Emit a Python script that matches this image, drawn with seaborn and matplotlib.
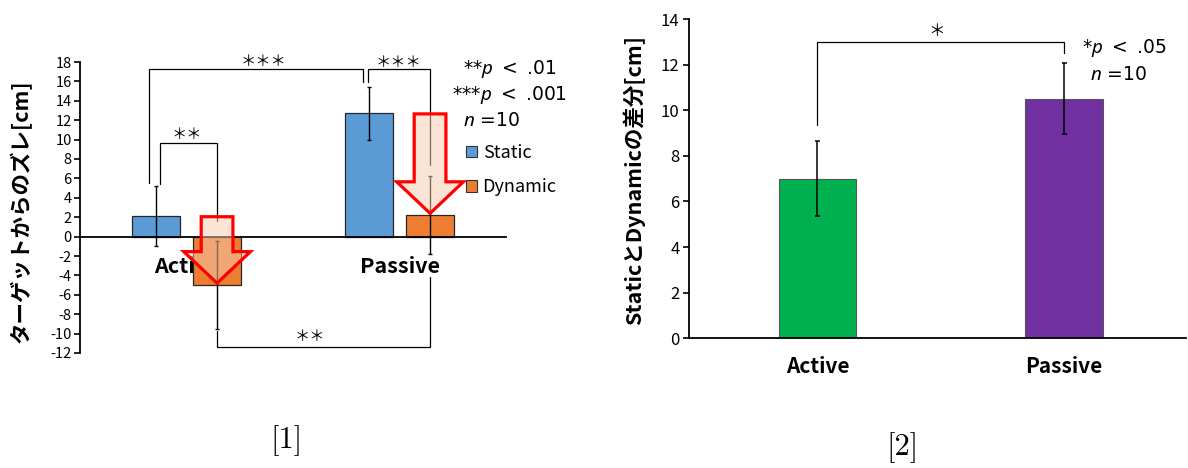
import numpy as np
import pandas as pd
import matplotlib
matplotlib.use('Agg')
import matplotlib.pyplot as plt
import seaborn as sns
from matplotlib.patches import Polygon, Patch

# ---------------- data ----------------
conditions = ['Active', 'Passive']
types = ['Static', 'Dynamic']
static_mean = [2.1, 12.7]
static_sd = [3.1, 2.7]
dynamic_mean = [-5.0, 2.2]
dynamic_sd = [4.5, 4.0]
diff_mean = [7.0, 10.5]
diff_sd = [1.63, 1.55]
left_yticks = list(range(-12, 19, 2))
right_yticks = list(range(0, 15, 2))

BLUE = '#5B9BD5'
ORANGE = '#ED7D31'
GREEN = '#00B050'
PURPLE = '#7030A0'

sns.set_theme(style='white')
plt.rcParams['font.family'] = ['Noto Sans CJK JP', 'DejaVu Sans']
plt.rcParams['mathtext.fontset'] = 'custom'
plt.rcParams['mathtext.it'] = 'Noto Sans:italic'
plt.rcParams['mathtext.rm'] = 'DejaVu Sans'
plt.rcParams['axes.unicode_minus'] = False
plt.rcParams['text.color'] = 'black'
plt.rcParams['axes.labelcolor'] = 'black'
plt.rcParams['xtick.color'] = 'black'
plt.rcParams['ytick.color'] = 'black'

ANNOT_FONT = ['DejaVu Sans']

W, H = 1188, 468
fig = plt.figure(figsize=(W / 100, H / 100), dpi=100)
fig.patch.set_facecolor('white')

ax1 = fig.add_axes([80 / W, 1 - 353 / H, 426 / W, 291 / H])
ax2 = fig.add_axes([689.3 / W, 1 - 338.3 / H, 496.7 / W, 319.3 / H])

# ---------------- left panel ----------------
df1 = pd.DataFrame({
    'cond': conditions * 2,
    'type': [types[0]] * 2 + [types[1]] * 2,
    'value': static_mean + dynamic_mean,
})
sns.barplot(data=df1, x='cond', y='value', hue='type', order=conditions,
            hue_order=types, palette=[BLUE, ORANGE], saturation=1,
            width=0.574, gap=0.22, edgecolor='#262626', linewidth=0.9,
            errorbar=None, legend=False, ax=ax1, zorder=2)

sx = [b.get_x() + b.get_width() / 2 for b in ax1.containers[0]]
dx = [b.get_x() + b.get_width() / 2 for b in ax1.containers[1]]

ax1.errorbar(sx, static_mean, yerr=static_sd, fmt='none', ecolor='black',
             elinewidth=1.0, capsize=1.6, capthick=1.0, zorder=3)
ax1.errorbar(dx, dynamic_mean, yerr=dynamic_sd, fmt='none', ecolor='black',
             elinewidth=1.0, capsize=1.6, capthick=1.0, zorder=3)

ax1.set_xlim(-0.5, 1.5)
ax1.set_ylim(-12, 18)
ax1.set_yticks(left_yticks)
ax1.set_yticklabels([str(t) for t in left_yticks])
ax1.set_xlabel('')
ax1.set_ylabel('')
for s in ['top', 'right']:
    ax1.spines[s].set_visible(False)
ax1.spines['bottom'].set_position(('data', 0))
for s in ['left', 'bottom']:
    ax1.spines[s].set_color('black')
    ax1.spines[s].set_linewidth(1.3)
ax1.tick_params(axis='y', left=True, direction='out', length=4, width=1.2,
                labelsize=10.5, pad=2, colors='black')
ax1.tick_params(axis='x', bottom=False, length=0, pad=14, labelsize=15.5,
                colors='black')
for lab in ax1.get_xticklabels():
    lab.set_fontweight('bold')
    lab.set_zorder(1)
ax1.patch.set_visible(False)


def bracket(ax, x1, x2, y1, y2, yh, text, tx, ty, fs):
    ax.plot([x1, x1, x2, x2], [y1, yh, yh, y2], color='black', lw=0.9,
            solid_joinstyle='miter', zorder=3, clip_on=False)
    ax.text(tx, ty, text, ha='center', va='center', fontsize=fs,
            color='black', zorder=5)


# brackets (left)
bracket(ax1, sx[0] - 0.031, sx[1] - 0.028, 5.5, 15.95, 17.3,
        '＊＊＊', 0.362, 18.0, 11)
bracket(ax1, sx[1] - 0.006, dx[1], 15.95, 7.4, 17.3,
        '＊＊＊', 0.996, 17.9, 11)
bracket(ax1, sx[0] + 0.019, dx[0], 5.4, 1.6, 9.6,
        '＊＊', 0.003, 10.5, 11)
bracket(ax1, dx[0], dx[1], -9.7, -4.2, -11.4,
        '＊＊', 0.581, -10.3, 11)


def down_arrow(ax, xc, y_top, y_tip, shaft_w=0.149, head_w=0.313,
               head_len=3.25):
    yb = y_tip + head_len
    pts = [(xc - shaft_w / 2, y_top), (xc + shaft_w / 2, y_top),
           (xc + shaft_w / 2, yb), (xc + head_w / 2, yb), (xc, y_tip),
           (xc - head_w / 2, yb), (xc - shaft_w / 2, yb)]
    poly = Polygon(pts, closed=True,
                   facecolor=(247 / 255, 205 / 255, 176 / 255, 0.52),
                   edgecolor='#FF0000', linewidth=2.3, joinstyle='miter',
                   zorder=4)
    ax.add_patch(poly)


for i in range(2):
    down_arrow(ax1, dx[i], static_mean[i] - 0.05, dynamic_mean[i] + 0.2)

# legend + annotations (left)
handles = [Patch(facecolor=BLUE, edgecolor='#333333', linewidth=0.8),
           Patch(facecolor=ORANGE, edgecolor='#333333', linewidth=0.8)]
fig.legend(handles, types, loc='upper left',
           bbox_to_anchor=(466 / W, 1 - 144 / H), frameon=False, fontsize=13,
           handlelength=0.62, handleheight=0.62, handletextpad=0.3,
           labelspacing=0.9, borderpad=0, borderaxespad=0,
           labelcolor='black')

fig.text(463 / W, 1 - 69.3 / H, r'**$p$ $<$ .01', fontsize=13.5,
         family=ANNOT_FONT, ha='left', va='center')
fig.text(451.7 / W, 1 - 95 / H, r'***$p$ $<$ .001', fontsize=13.5,
         family=ANNOT_FONT, ha='left', va='center')
fig.text(463 / W, 1 - 121 / H, r'$n$ =10', fontsize=13.5,
         family=ANNOT_FONT, ha='left', va='center')

fig.text(21 / W, 1 - 211.5 / H, 'ターゲットからのズレ[cm]', rotation=90,
         ha='center', va='center', fontsize=15.5, fontweight='bold')

# ---------------- right panel ----------------
df2 = pd.DataFrame({'cond': conditions, 'diff': diff_mean})
sns.barplot(data=df2, x='cond', y='diff', hue='cond', order=conditions,
            hue_order=conditions, palette=[GREEN, PURPLE], saturation=1,
            width=0.315, edgecolor='#555555', linewidth=0.8, errorbar=None,
            legend=False, ax=ax2, zorder=2)
rx = [c[0].get_x() + c[0].get_width() / 2 for c in ax2.containers]
ax2.errorbar(rx, diff_mean, yerr=diff_sd, fmt='none', ecolor='black',
             elinewidth=1.1, capsize=1.8, capthick=1.1, zorder=3)
ax2.set_xlim(-0.52, 1.495)
ax2.set_ylim(0, 14)
ax2.set_yticks(right_yticks)
ax2.set_yticklabels([str(t) for t in right_yticks])
ax2.set_xlabel('')
ax2.set_ylabel('')
for s in ['top', 'right']:
    ax2.spines[s].set_visible(False)
for s in ['left', 'bottom']:
    ax2.spines[s].set_color('black')
    ax2.spines[s].set_linewidth(1.3)
ax2.tick_params(axis='y', left=True, direction='out', length=4, width=1.2,
                labelsize=12, pad=3, colors='black')
ax2.tick_params(axis='x', bottom=False, length=0, pad=13, labelsize=15,
                colors='black')
for lab in ax2.get_xticklabels():
    lab.set_fontweight('bold')

bracket(ax2, rx[0], rx[1], 9.36, 12.5, 12.98, '＊', 0.485, 13.45, 12)

fig.text(1082.5 / W, 1 - 48.3 / H, r'*$p$ $<$ .05', fontsize=13.5,
         family=ANNOT_FONT, ha='left', va='center')
fig.text(1090 / W, 1 - 75 / H, r'$n$ =10', fontsize=13.5,
         family=ANNOT_FONT, ha='left', va='center')

fig.text(634 / W, 1 - 180 / H, 'StaticとDynamicの差分[cm]', rotation=90,
         ha='center', va='center', fontsize=15.5, fontweight='bold')

# ---------------- captions ----------------
fig.text(287 / W, 1 - 441 / H, '[1]', family='cmr10', fontsize=22,
         ha='center', va='center')
fig.text(903 / W, 1 - 448 / H, '[2]', family='cmr10', fontsize=22,
         ha='center', va='center')

fig.savefig('out.png', dpi=100, facecolor='white')
